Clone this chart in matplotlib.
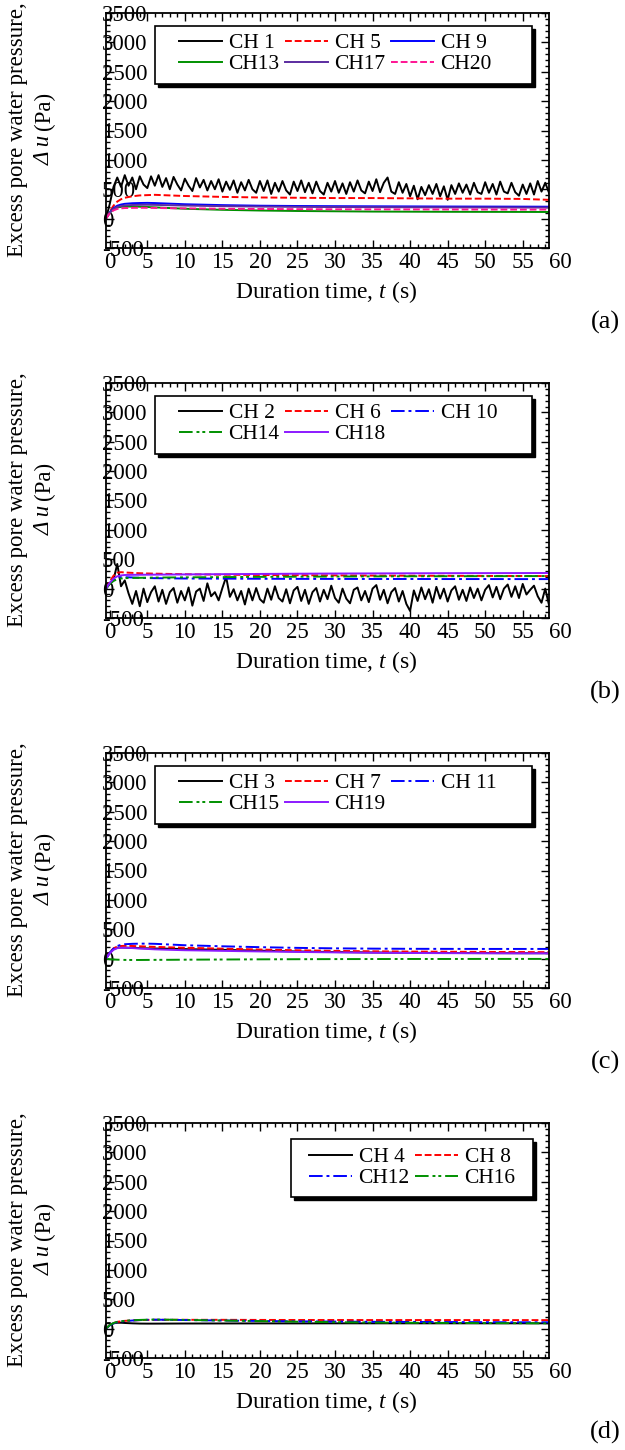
import numpy as np
import matplotlib
matplotlib.use('Agg')
import matplotlib.pyplot as plt
from matplotlib.ticker import MultipleLocator
from matplotlib.patches import Rectangle

plt.rcParams['font.family'] = ['Liberation Serif', 'DejaVu Serif']
plt.rcParams['mathtext.fontset'] = 'custom'
plt.rcParams['mathtext.rm'] = 'Liberation Serif'
plt.rcParams['mathtext.it'] = 'Liberation Serif:italic'
plt.rcParams['axes.unicode_minus'] = False

# czas dla krzywych gladkich (s)
t_smooth = [-0.5, 0, 0.5, 1, 1.5, 2, 3, 4, 5, 6, 8, 10, 15, 20, 25, 30, 35, 40, 45, 50, 55, 58.5]

# panel (a)
ch1 = [0, 250, 540, 700, 540, 740, 560, 700, 500, 720, 580, 520, 720, 560, 740, 540, 690, 500, 710, 580,
       480, 680, 560, 470, 690, 530, 660, 480, 640, 500, 670, 460, 630, 490, 650, 440, 620, 480, 660, 500,
       440, 640, 470, 650, 420, 610, 460, 640, 480, 410, 630, 470, 650, 450, 610, 430, 630, 470, 410, 610,
       460, 640, 440, 600, 420, 620, 460, 650, 480, 430, 630, 470, 670, 450, 610, 700, 460, 420, 620, 440,
       590, 380, 560, 330, 540, 400, 570, 420, 590, 380, 550, 320, 570, 420, 600, 440, 580, 410, 610, 450,
       420, 620, 440, 590, 410, 630, 460, 430, 610, 450, 390, 580, 420, 600, 410, 640, 460, 610, 440]
ch5 = [0, 120, 220, 290, 330, 355, 380, 395, 400, 405, 395, 385, 370, 360, 355, 350, 350, 345, 340, 340, 335, 320]
ch9 = [0, 110, 180, 220, 240, 252, 262, 266, 268, 265, 255, 245, 230, 220, 215, 212, 210, 208, 206, 205, 204, 203]
ch13 = [0, 100, 160, 190, 200, 205, 206, 203, 198, 192, 180, 168, 150, 138, 130, 125, 120, 118, 116, 115, 114, 113]
ch17 = [0, 100, 165, 200, 215, 225, 232, 235, 236, 234, 228, 222, 212, 205, 200, 197, 195, 193, 191, 190, 189, 188]
ch20 = [0, 90, 140, 165, 175, 180, 183, 185, 184, 182, 178, 175, 168, 164, 161, 159, 158, 157, 156, 155, 154, 154]

# panel (b)
ch2 = [0, 80, 150, 420, 40, 140, -80, -260, -40, -300, 0, -230, -60, 40, -220, -20, -260, -60, 10, -240,
       -40, -200, 20, -290, -50, 0, -210, 90, -130, -60, -200, 10, 200, -140, -10, -200, -40, -270, 0, -200,
       10, -180, -240, 0, -190, 40, -160, -220, -10, -250, -30, 30, -210, -20, -260, -60, 10, -220, -20, -180,
       50, -160, -240, 0, -170, -250, -20, 20, -200, -40, -230, 0, 60, -190, -20, -250, -60, 10, -220, -40,
       -260, -380, -30, -210, 20, -180, -10, -240, 30, -170, 0, -220, -30, 40, -190, -20, -210, 20, -160, 0,
       -200, -20, 60, -150, 30, -180, 0, 70, -140, 40, -160, 80, -100, -20, 50, -130, -240, 0, -280]
ch6 = [0, 120, 220, 270, 280, 275, 268, 262, 258, 255, 250, 245, 238, 232, 228, 225, 222, 220, 218, 216, 215, 214]
ch10 = [0, 90, 150, 185, 195, 195, 190, 185, 180, 178, 175, 172, 170, 168, 166, 165, 164, 164, 163, 163, 162, 162]
ch14 = [0, 80, 130, 160, 172, 178, 182, 184, 186, 188, 190, 192, 196, 200, 203, 206, 208, 210, 211, 212, 213, 214]
ch18 = [0, 100, 170, 210, 225, 232, 235, 236, 237, 238, 240, 242, 246, 250, 254, 257, 259, 261, 263, 264, 265, 266]

# panel (c)
ch3 = [0, 100, 160, 185, 190, 188, 182, 178, 175, 172, 168, 162, 150, 135, 122, 112, 105, 100, 96, 94, 92, 92]
ch7 = [0, 110, 175, 205, 215, 218, 215, 210, 205, 200, 192, 185, 170, 155, 142, 132, 125, 120, 117, 114, 112, 110]
ch11 = [0, 100, 170, 215, 235, 245, 252, 255, 255, 252, 240, 228, 210, 195, 183, 175, 170, 167, 166, 165, 165, 165]
ch15 = [0, -10, -15, -18, -20, -22, -23, -23, -22, -21, -20, -18, -15, -12, -10, -8, -7, -6, -6, -5, -5, -5]
ch19 = [0, 90, 150, 178, 185, 185, 180, 172, 165, 158, 150, 143, 132, 122, 114, 106, 100, 96, 93, 91, 90, 90]

# panel (d)
ch4 = [0, 60, 90, 100, 100, 96, 90, 86, 85, 85, 86, 87, 88, 89, 89, 90, 90, 90, 90, 90, 90, 90]
ch8 = [0, 60, 95, 115, 125, 132, 140, 145, 148, 150, 150, 150, 150, 148, 147, 147, 146, 146, 146, 145, 145, 145]
ch12 = [0, 55, 90, 110, 120, 128, 138, 145, 150, 152, 150, 146, 138, 130, 124, 120, 116, 114, 112, 110, 108, 108]
ch16 = [0, 60, 95, 115, 125, 133, 142, 148, 152, 154, 152, 148, 138, 128, 118, 110, 104, 100, 97, 94, 92, 90]

t_noisy = np.linspace(-0.5, 58.5, len(ch1))

DASH = (0, (3.5, 1.5))
DASHDOT = (0, (7, 2, 1.5, 2))
DASHDOTDOT = (0, (7, 2, 1.5, 1.5, 1.5, 2))

# (etykieta, czas, wartosci, kolor, styl) - kolejnosc wierszami w legendzie
panels = [
    ('(a)', 3, [('CH 1', t_noisy, ch1, 'black', '-'),
                ('CH 5', t_smooth, ch5, '#ff0000', DASH),
                ('CH 9', t_smooth, ch9, '#0000ff', '-'),
                ('CH13', t_smooth, ch13, '#009000', '-'),
                ('CH17', t_smooth, ch17, '#5b2ca0', '-'),
                ('CH20', t_smooth, ch20, '#ff1493', DASH)]),
    ('(b)', 3, [('CH 2', t_noisy, ch2, 'black', '-'),
                ('CH 6', t_smooth, ch6, '#ff0000', DASH),
                ('CH 10', t_smooth, ch10, '#0000ff', DASHDOT),
                ('CH14', t_smooth, ch14, '#009000', DASHDOTDOT),
                ('CH18', t_smooth, ch18, '#8c1aff', '-')]),
    ('(c)', 3, [('CH 3', t_smooth, ch3, 'black', '-'),
                ('CH 7', t_smooth, ch7, '#ff0000', DASH),
                ('CH 11', t_smooth, ch11, '#0000ff', DASHDOT),
                ('CH15', t_smooth, ch15, '#009000', DASHDOTDOT),
                ('CH19', t_smooth, ch19, '#8c1aff', '-')]),
    ('(d)', 2, [('CH 4', t_smooth, ch4, 'black', '-'),
                ('CH 8', t_smooth, ch8, '#ff0000', DASH),
                ('CH12', t_smooth, ch12, '#0000ff', DASHDOT),
                ('CH16', t_smooth, ch16, '#009000', DASHDOTDOT)]),
]

W, H = 625, 1450
AX_L, AX_W, AX_H = 106, 443, 235
fig = plt.figure(figsize=(W / 100, H / 100), dpi=100)


def px_to_ax(x, y_rel):
    # piksele (x od lewej, y od gory osi) -> ulamki osi
    return (x - AX_L) / AX_W, 1 - y_rel / AX_H


for i, (tag, ncol, series) in enumerate(panels):
    top = 13 + 370 * i
    ax = fig.add_axes([AX_L / W, 1 - (top + AX_H) / H, AX_W / W, AX_H / H])
    handles = []
    for name, t, v, c, ls in series:
        h, = ax.plot(t, v, color=c, ls=ls, lw=1.4, label=name)
        handles.append(h)

    ax.set_xlim(-0.5, 58.5)
    ax.set_ylim(-500, 3500)
    ax.xaxis.set_major_locator(MultipleLocator(5))
    ax.xaxis.set_minor_locator(MultipleLocator(1))
    ax.yaxis.set_major_locator(MultipleLocator(500))
    ax.yaxis.set_minor_locator(MultipleLocator(100))
    ax.tick_params(which='both', direction='in', top=True, right=True, width=1)
    ax.tick_params(which='major', length=6)
    ax.tick_params(which='minor', length=3)
    ax.tick_params(axis='x', labelsize=16.5, pad=3)
    ax.tick_params(axis='y', labelsize=16.5, pad=3)
    for lbl in ax.get_yticklabels():
        lbl.set_horizontalalignment('left')
    for s in ax.spines.values():
        s.set_linewidth(1.3)
    # etykieta 60 lezy poza zakresem osi
    ax.annotate('60', xy=(60, 0), xycoords=('data', 'axes fraction'),
                xytext=(0, -3), textcoords='offset points',
                ha='center', va='top', fontsize=16.5, annotation_clip=False)

    ax.text(0.497, -0.213, 'Duration time, $t$ (s)', transform=ax.transAxes,
            ha='center', va='baseline', fontsize=17)
    fig.text(18 / W, 1 - (top + 117) / H, 'Excess pore water pressure,',
             rotation=90, ha='center', va='center', fontsize=16.5)
    fig.text(44 / W, 1 - (top + 122) / H, 'Δ u', style='italic',
             rotation=90, ha='center', va='top', fontsize=16.5)
    fig.text(44 / W, 1 - (top + 117) / H, '(Pa)',
             rotation=90, ha='center', va='bottom', fontsize=16.5)
    fig.text(605 / W, 1 - (top + 309) / H, tag, ha='center', va='center', fontsize=19)

    # ramka legendy z cieniem
    if ncol == 3:
        bx0, bx1, by0, by1 = 155, 532, 13, 71
        anchor = px_to_ax(179, 20)
    else:
        bx0, bx1, by0, by1 = 291, 533, 16, 74
        anchor = px_to_ax(309, 24)
    sx0, sy0 = px_to_ax(bx0 + 3, by1 + 3)
    fx0, fy0 = px_to_ax(bx0, by1)
    bw, bh = (bx1 - bx0) / AX_W, (by1 - by0) / AX_H
    ax.add_patch(Rectangle((sx0, sy0), bw, bh, transform=ax.transAxes,
                           facecolor='black', edgecolor='black', zorder=4))
    ax.add_patch(Rectangle((fx0, fy0), bw, bh, transform=ax.transAxes,
                           facecolor='white', edgecolor='black', lw=1.2, zorder=4.5))

    # legenda wierszami: matplotlib wypelnia kolumnami
    nrows = int(np.ceil(len(handles) / ncol))
    order = []
    for c in range(ncol):
        for r in range(nrows):
            k = r * ncol + c
            if k < len(handles):
                order.append(k)
    hs = [handles[k] for k in order]
    leg = ax.legend(hs, [h.get_label() for h in hs], ncol=ncol, loc='upper left',
                    bbox_to_anchor=anchor, fontsize=15.5, handlelength=2.0,
                    handletextpad=0.3, columnspacing=0.25, labelspacing=0.05,
                    borderpad=0, borderaxespad=0, frameon=False)
    leg.set_zorder(5)

fig.savefig('out.png', dpi=100)
